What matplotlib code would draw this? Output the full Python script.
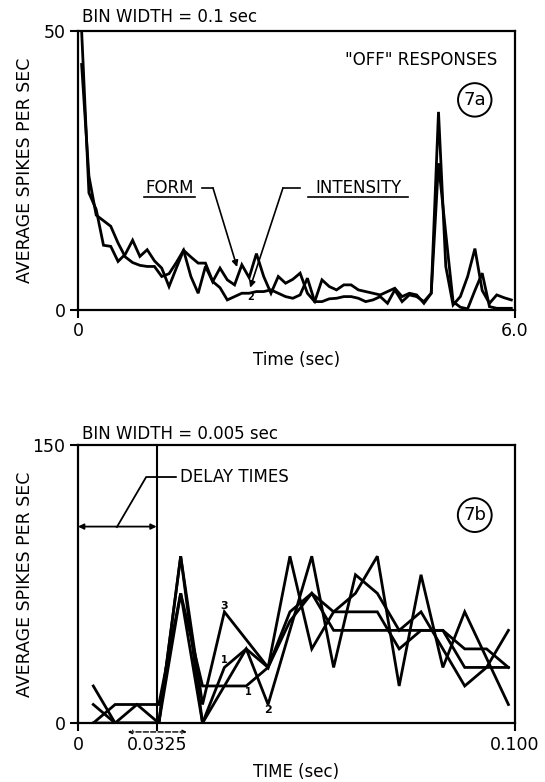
import numpy as np
import matplotlib
matplotlib.use('Agg')
import matplotlib.pyplot as plt

plt.rcParams['font.family'] = ['DejaVu Sans']

# ---- Fig 7a: "OFF" responses, bin width 0.1 sec ----
bin_a = 0.1
form_rate = [50, 21, 18, 11.6, 11.4, 8.7, 10, 12.5, 9.6, 10.8,
             8.8, 7.5, 4.2, 7.5, 10.7, 9.5, 8.4, 8.4, 5.1, 7.5,
             5.4, 4.5, 8.1, 5.8, 10.1, 6.0, 3.0, 6.0, 4.8, 5.5,
             6.6, 3.0, 1.5, 5.4, 4.2, 3.6, 4.5, 4.5, 3.6, 3.3,
             3.0, 2.7, 3.3, 3.9, 2.4, 3.0, 2.7, 1.2, 3.0, 35.5,
             7.8, 0.9, 2.4, 6.0, 11.0, 3.5, 1.2, 2.7, 2.2, 1.8]
intensity_rate = [44, 24, 17, 16, 15, 12, 9.5, 8.5, 8, 7.8,
                  7.8, 6, 6.5, 8.5, 10.7, 6, 3.0, 7.8, 5.1, 4,
                  1.8, 2.4, 3.0, 3.0, 3.3, 3.3, 3.6, 3.0, 2.4, 2.1,
                  2.7, 5.7, 1.5, 1.5, 2.0, 2.1, 2.4, 2.4, 2.1, 1.5,
                  1.8, 2.4, 1.2, 3.6, 1.5, 2.7, 2.4, 1.5, 3.0, 26.3,
                  13.7, 1.5, 0.5, 0.2, 3.5, 6.6, 0.6, 0.3, 0.3, 0.3]
t_a = np.arange(len(form_rate)) * bin_a + bin_a / 2

# ---- Fig 7b: bin width 0.005 sec ----
t_b = [0.0035, 0.0085, 0.0135, 0.0185, 0.0235, 0.0285, 0.0335, 0.0385, 0.0435, 0.0485,
       0.0535, 0.0585, 0.0635, 0.0685, 0.0735, 0.0785, 0.0835, 0.0885, 0.0935, 0.0985]
cell_1 = [0, 10, 10, 10, 70, 20, 20, 20, 30, 55, 70, 50, 50, 50, 50, 50, 50, 30, 30, 30]
cell_2 = [10, 0, 10, 0, 70, 0, 30, 40, 30, 60, 70, 60, 60, 60, 40, 50, 50, 40, 40, 30]
cell_3 = [20, 0, 0, 0, 90, 10, 60, 45, 30, 90, 40, 60, 70, 90, 20, 80, 30, 60, 35, 10]
cell_4 = [0, 0, 0, 0, 90, 0, 20, 40, 10, 50, 90, 30, 80, 70, 50, 60, 40, 20, 30, 50]
delay_x = 0.018

fig = plt.figure(figsize=(5.45, 7.82), dpi=100)
ax1 = fig.add_axes([0.1431, 0.6036, 0.8018, 0.3568])
ax2 = fig.add_axes([0.1431, 0.0754, 0.8018, 0.3555])

lw = 2.0
fs = 12

def style(ax):
    for s in ax.spines.values():
        s.set_linewidth(1.6)
    ax.tick_params(direction='out', length=6, width=1.5, labelsize=12.5, pad=3)


# top panel
ax1.plot(t_a, form_rate, color='black', lw=lw, solid_joinstyle='miter')
ax1.plot(t_a, intensity_rate, color='black', lw=lw, solid_joinstyle='miter')
ax1.set_xlim(0, 6.0)
ax1.set_ylim(0, 50)
ax1.set_xticks([0, 6.0])
ax1.set_xticklabels(['0', '6.0'])
ax1.set_yticks([0, 50])
style(ax1)

ax1.text(0.01, 1.05, 'BIN WIDTH = 0.1 sec', transform=ax1.transAxes, fontsize=fs, va='center')
ax1.text(0.96, 0.895, '"OFF" RESPONSES', transform=ax1.transAxes, fontsize=fs, ha='right', va='center')
ax1.text(0.908, 0.753, '7a', transform=ax1.transAxes, fontsize=13, ha='center', va='center',
         bbox=dict(boxstyle='circle,pad=0.3', fc='white', ec='black', lw=1.4))
ax1.text(-0.121, 0.5, 'AVERAGE SPIKES PER SEC', transform=ax1.transAxes, rotation=90,
         fontsize=12.5, ha='center', va='center')
ax1.text(0.5, -0.18, 'Time (sec)', transform=ax1.transAxes, fontsize=fs, ha='center', va='center')

# FORM / INTENSITY labels with leaders
ax1.text(0.21, 0.437, 'FORM', transform=ax1.transAxes, fontsize=fs, ha='center', va='center')
ax1.plot([0.152, 0.268], [0.405, 0.405], transform=ax1.transAxes, color='black', lw=1.2)
ax1.plot([0.284, 0.309], [0.437, 0.437], transform=ax1.transAxes, color='black', lw=1.2)
ax1.annotate('', xy=(0.364, 0.154), xytext=(0.309, 0.437), xycoords='axes fraction',
             arrowprops=dict(arrowstyle='-|>', color='black', lw=1.2, mutation_scale=9,
                             shrinkA=0, shrinkB=0))
ax1.text(0.641, 0.437, 'INTENSITY', transform=ax1.transAxes, fontsize=fs, ha='center', va='center')
ax1.plot([0.527, 0.755], [0.405, 0.405], transform=ax1.transAxes, color='black', lw=1.2)
ax1.plot([0.508, 0.469], [0.437, 0.437], transform=ax1.transAxes, color='black', lw=1.2)
ax1.annotate('', xy=(0.394, 0.08), xytext=(0.469, 0.437), xycoords='axes fraction',
             arrowprops=dict(arrowstyle='-|>', color='black', lw=1.2, mutation_scale=9,
                             shrinkA=0, shrinkB=0))
ax1.text(0.394, 0.045, '2', transform=ax1.transAxes, fontsize=7,
         ha='center', va='center', fontweight='bold')

# bottom panel
for vals in (cell_1, cell_2, cell_3, cell_4):
    ax2.plot(t_b, vals, color='black', lw=lw, solid_joinstyle='miter')
ax2.axvline(delay_x, color='black', lw=1.5)
ax2.set_xlim(0, 0.1)
ax2.set_ylim(0, 150)
ax2.set_xticks([0, delay_x, 0.1])
ax2.set_xticklabels(['0', '0.0325', '0.100'])
ax2.set_yticks([0, 150])
style(ax2)

ax2.text(0.01, 1.04, 'BIN WIDTH = 0.005 sec', transform=ax2.transAxes, fontsize=fs, va='center')
ax2.text(0.908, 0.748, '7b', transform=ax2.transAxes, fontsize=13, ha='center', va='center',
         bbox=dict(boxstyle='circle,pad=0.3', fc='white', ec='black', lw=1.4))
ax2.text(-0.121, 0.5, 'AVERAGE SPIKES PER SEC', transform=ax2.transAxes, rotation=90,
         fontsize=12.5, ha='center', va='center')
ax2.text(0.5, -0.176, 'TIME (sec)', transform=ax2.transAxes, fontsize=fs, ha='center', va='center')

# delay time annotations
ax2.annotate('', xy=(0, 106), xytext=(delay_x, 106),
             arrowprops=dict(arrowstyle='<|-|>', color='black', lw=1.3, mutation_scale=8,
                             shrinkA=0, shrinkB=0))
ax2.text(0.233, 0.885, 'DELAY TIMES', transform=ax2.transAxes, fontsize=fs, va='center')
ax2.plot([0.224, 0.156, 0.089], [0.885, 0.885, 0.705], transform=ax2.transAxes,
         color='black', lw=1.3)
ax2.annotate('', xy=(0.114, -0.032), xytext=(0.249, -0.032), xycoords='axes fraction',
             arrowprops=dict(arrowstyle='<->', color='black', lw=1.0, ls='--',
                             mutation_scale=6, shrinkA=0, shrinkB=0),
             annotation_clip=False)

# trace numbers
ax2.text(t_b[6], 63, '3', fontsize=8, fontweight='bold', ha='center', va='center')
ax2.text(t_b[6], 34, '1', fontsize=7, fontweight='bold', ha='center', va='center')
ax2.text(t_b[7] + 0.0005, 17, '1', fontsize=7, fontweight='bold', ha='center', va='center')
ax2.text(t_b[8], 7, '2', fontsize=8, fontweight='bold', ha='center', va='center')

fig.savefig('out.png', dpi=100)
